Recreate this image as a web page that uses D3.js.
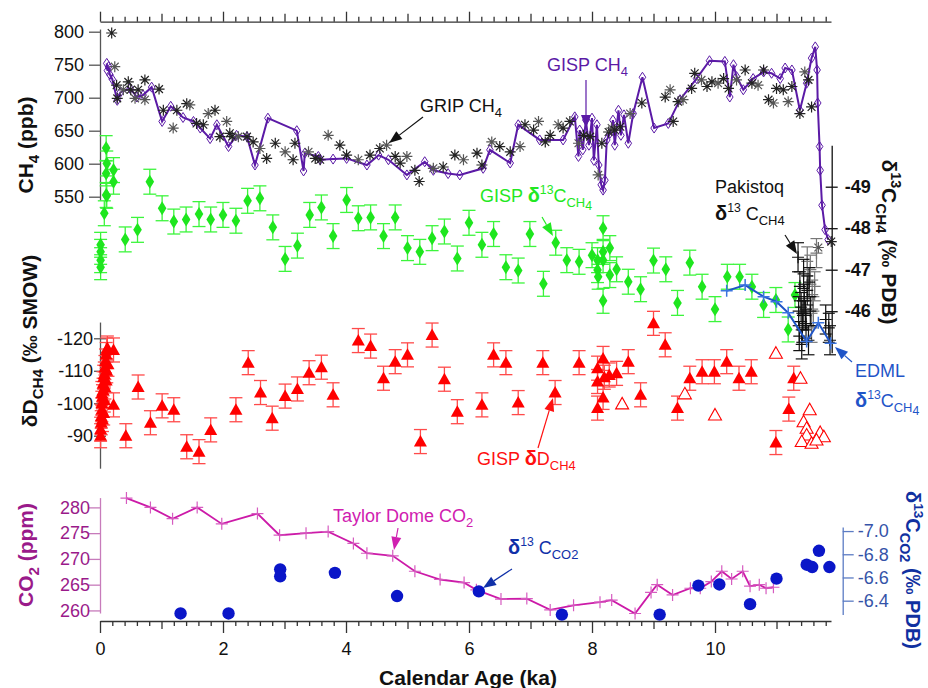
<!DOCTYPE html>
<html>
<head>
<meta charset="utf-8">
<script src="https://cdn.jsdelivr.net/npm/d3@7"></script>
<style>
body{margin:0;background:#fff;}
svg{font-family:"Liberation Sans",Arial,sans-serif;}
</style>
</head>
<body>
<svg id="chart" width="928" height="688"></svg>
<script>
// ---------------------------------------------- DATA (age in ka) ------------------------------------------------
var gispCH4 = [[0.11,752],[0.12,741],[0.14,747],[0.16,735],[0.2,728],[0.28,696],[0.33,708],[0.49,714],[0.6,701],[0.7,704],[0.84,716],
	[1.01,664],[1.15,687],[1.35,670],[1.52,664],[1.63,654],[1.79,638],[1.90,659],[2.09,626],[2.22,643],[2.39,641],[2.52,598],[2.73,669],
	[3.20,650],[3.31,589],[3.33,616],[3.55,611],[3.58,606],[3.79,607],[4.01,608],[4.34,598],[4.53,613],[4.69,606],[4.99,583],[5.28,603],
	[5.42,590],[5.66,585],[5.85,583],[6.23,593],[6.34,621],[6.67,601],[6.80,659],[7.15,636],[7.53,636],[7.72,671],[7.78,611],[7.80,651],
	[7.85,621],[7.90,666],[7.95,628],[8.00,669],[8.03,605],[8.08,659],[8.11,598],[8.15,568],[8.18,560],[8.21,575],[8.24,636],[8.29,646],
	[8.34,666],[8.37,628],[8.43,681],[8.47,643],[8.52,674],[8.59,631],[8.67,676],[8.82,731],[9.01,654],[9.24,661],[9.43,697],[9.70,729],
	[9.91,756],[10.16,755],[10.24,701],[10.30,750],[10.35,732],[10.46,712],[10.62,729],[10.79,739],[10.92,737],[11.06,729],[11.14,745],
	[11.25,742],[11.38,681],[11.49,722],[11.57,760],[11.63,777],[11.66,742],[11.67,692],[11.70,626],[11.71,590],[11.74,537],[11.79,500],[11.84,485]];

var gripCH4 = [[0.19,798],[0.24,747],[0.27,719],[0.28,699],[0.38,712],[0.46,724],[0.50,712],[0.57,699],[0.62,712],[0.73,727],[0.73,697],
	[0.96,713],[1.03,681],[1.19,654],[1.25,681],[1.41,691],[1.46,689],[1.57,661],[1.68,659],[1.76,676],[1.87,681],[1.95,641],[2.06,664],
	[2.11,646],[2.15,641],[2.25,641],[2.39,641],[2.49,633],[2.60,623],[2.71,608],[2.85,631],[3.01,618],[3.14,606],[3.17,631],[3.39,618],
	[3.50,608],[3.58,606],[3.71,643],[3.90,628],[4.01,613],[4.20,606],[4.39,613],[4.55,623],[4.66,628],[4.80,611],[4.88,601],[4.99,611],
	[5.12,590],[5.19,573],[5.42,593],[5.58,595],[5.77,613],[5.91,606],[6.13,616],[6.21,598],[6.37,633],[6.50,626],[6.67,618],[6.83,626],
	[6.91,659],[7.05,651],[7.13,664],[7.24,633],[7.32,643],[7.45,659],[7.53,654],[7.64,664],[7.78,631],[7.86,643],[7.97,641],[8.10,583],
	[8.16,631],[8.27,648],[8.32,654],[8.37,651],[8.46,656],[8.62,676],[8.81,692],[9.19,701],[9.27,712],[9.32,664],[9.40,694],[9.48,697],
	[9.62,714],[9.67,737],[9.78,727],[9.87,717],[9.95,724],[10.05,722],[10.14,729],[10.22,714],[10.35,727],[10.49,742],[10.60,722],
	[10.70,719],[10.79,742],[10.87,697],[10.95,692],[11.0,714],[11.11,712],[11.19,694],[11.25,717],[11.38,676],[11.46,739],[11.52,727],
	[11.57,686],[11.68,473],[11.89,482]];

var gispD13CH4 = [[0.10,-49.93],[0.11,-49.56],[0.10,-49.32],[0.22,-49.40],[0.22,-49.12],[0.81,-49.12],[0.10,-48.80],[0.07,-48.36],
	[0.11,-48.78],[0.01,-47.60],[0.01,-47.43],[0.01,-47.23],[0.01,-47.06],[0.41,-47.73],[0.61,-47.96],[1.01,-48.48],[1.20,-48.16],
	[1.40,-48.21],[1.61,-48.34],[1.80,-48.21],[2.00,-48.32],[2.21,-48.18],[2.40,-48.66],[2.60,-48.72],[2.81,-48.02],[3.01,-47.26],
	[3.21,-47.58],[3.41,-48.32],[3.60,-48.50],[3.79,-47.81],[4.01,-48.68],[4.20,-48.24],[4.40,-48.26],[4.61,-47.81],[4.80,-48.26],
	[5.00,-47.52],[5.20,-47.43],[5.40,-47.76],[5.60,-47.92],[5.81,-47.27],[6.00,-48.13],[6.21,-47.60],[6.40,-47.86],[6.60,-47.06],
	[6.80,-46.98],[6.99,-47.86],[7.21,-46.66],[7.41,-47.65],[7.59,-47.23],[7.79,-47.19],[8.00,-47.35],[8.09,-47.23],[8.09,-46.99],
	[8.10,-46.83],[8.18,-48.00],[8.18,-47.43],[8.18,-47.23],[8.18,-46.25],[8.29,-47.52],[8.29,-46.87],[8.40,-47.01],[8.59,-46.71],
	[8.79,-46.53],[9.00,-47.22],[9.20,-47.01],[9.39,-46.20],[9.59,-47.17],[9.79,-46.59],[10.0,-46.05],[10.20,-46.83],[10.40,-46.83],
	[10.60,-46.59],[10.79,-46.15],[10.99,-46.27],[11.19,-45.56],[11.30,-46.39]];

var pakistoqDark = [[11.35,-47.3],[11.38,-46.6],[11.40,-46.1],[11.42,-45.6],[11.44,-46.9],[11.45,-46.3],[11.37,-45.4],[11.47,-45.9],
	[11.50,-46.5],[11.52,-45.3],[11.55,-46.0],[11.41,-45.2],[11.48,-45.7],[11.36,-46.0],[11.53,-46.7],[11.43,-45.9],[11.80,-45.8],
	[11.85,-45.6],[11.87,-45.3]];
var pakistoqGrey = [[11.50,-47.2],[11.55,-47.0],[11.58,-46.4],[11.62,-46.6],[11.60,-46.0],[11.65,-47.4],[11.57,-45.6]];

var edmlD13CH4 = [[10.19,-46.49],[10.49,-46.63],[10.79,-46.35],[11.0,-46.23],[11.19,-45.96],[11.49,-45.27],[11.68,-45.72],[11.88,-45.23]];

var gispDD = [[0.01,-92],[0.02,-94],[0.02,-96],[0.03,-98],[0.03,-100],[0.04,-102],[0.05,-104],[0.05,-106],[0.06,-108],[0.07,-109],
	[0.08,-111],[0.09,-113],[0.10,-115],[0.12,-117],[0.06,-97],[0.04,-95],[0.08,-105],[0.10,-107],[0.11,-110],[0.13,-112],[0.01,-90],
	[0.03,-103],[0.07,-101],[0.11,-116.4],[0.22,-116.4],[0.22,-99.5],[0.42,-90],[0.62,-105],[0.82,-94],[1.01,-99.2],[1.20,-98],[1.41,-86.6],
	[1.61,-85.1],[1.80,-91.8],[2.21,-98],[2.41,-112.5],[2.61,-103.3],[2.80,-95.4],[3.01,-102.2],[3.21,-104.4],[3.40,-109.4],[3.60,-111.1],
	[3.79,-102.6],[4.20,-119.3],[4.40,-117.6],[4.61,-107.7],[4.80,-112.8],[5.00,-114.9],[5.21,-88.2],[5.40,-121],[5.60,-107.4],[5.81,-97.4],
	[6.21,-99.5],[6.40,-114.9],[6.60,-112.5],[6.80,-100.2],[7.20,-112.5],[7.40,-103.3],[7.79,-112.5],[8.09,-110.8],[8.09,-106.7],[8.09,-98.5],
	[8.18,-113.8],[8.18,-101.8],[8.20,-108],[8.28,-108.7],[8.40,-109.2],[8.59,-112.8],[8.79,-102.6],[9.00,-124.6],[9.19,-118],[9.39,-98.5],
	[9.59,-107.7],[9.79,-109.7],[9.99,-109.7],[10.19,-112.8],[10.39,-107.7],[10.59,-109.7],[10.99,-87.9],[11.20,-98.2],[11.28,-107.7]];
var gispDDopen = [[10.99,-115.4],[8.49,-99.8],[9.51,-102.9],[10.0,-96.4],[11.39,-107.7],[11.54,-98],[11.44,-94.3],[11.49,-92.3],
	[11.49,-90.2],[11.41,-88.2],[11.57,-87.7],[11.71,-91],[11.77,-89.7],[11.65,-88.7]];

var taylorCO2 = [[0.43,281.8],[0.82,280],[1.18,277.8],[1.58,280],[1.98,276.8],[2.56,278.8],[2.92,274.6],[3.35,275],[3.71,275.3],
	[4.12,273],[4.34,271.1],[4.76,270.6],[5.12,267.6],[5.53,266],[5.92,265.4],[6.12,264],[6.52,262.2],[6.94,262.3],[7.32,260.1],[7.70,261],
	[8.13,261.6],[8.32,262],[8.70,259.4],[8.96,263.5],[9.06,265],[9.31,263],[9.60,264.3],[9.76,264.3],[9.94,265.6],[10.11,267.6],[10.27,266.1],
	[10.45,267.6],[10.57,264.7],[10.72,265],[10.83,264.3],[10.95,264.5]];

var d13CO2 = [[1.31,-6.29],[2.09,-6.29],[2.93,-6.67],[2.93,-6.61],[3.82,-6.64],[4.83,-6.44],[6.16,-6.48],[7.51,-6.28],[9.10,-6.28],
	[9.73,-6.53],[10.07,-6.54],[10.57,-6.37],[11.0,-6.59],[11.49,-6.71],[11.58,-6.69],[11.69,-6.83],[11.86,-6.69]];

var ageTicks = d3.range(0,60).map(function(i){return i/5;});
var ch4Ticks = [550,600,650,700,750,800];
var d13Ticks = [-49,-48,-47,-46];
var ddTicks = [-120,-110,-100,-90];
var co2Ticks = [260,265,270,275,280];
var d13co2Ticks = [-7.0,-6.8,-6.6,-6.4];

// ---------------------------------------------- SCALES ------------------------------------------------
var svg = d3.select("#chart");
var x = d3.scaleLinear().domain([0,11.886]).range([100,831]);
var yCH4 = d3.scaleLinear().domain([545,804]).range([200,29.06]);
var yC13 = d3.scaleLinear().domain([-50,-45]).range([145.2,352.7]);
var yDD = d3.scaleLinear().domain([-125,-80]).range([322.05,468.2]);
var yCO2 = d3.scaleLinear().domain([259.5,281.9]).range([613,497.6]);
var yC13co2 = d3.scaleLinear().domain([-7.035,-6.28]).range([527,614.6]);

var FS = 18;

/* ------------------------------------------------- helpers ----------------------------------------------------------- */
function richText(g,px,py,parts,fs,color,opt){
	opt = opt || {};
	var t = g.append("text").attr("x",px).attr("y",py)
		.style("font-size",fs+"px").style("fill",color)
		.style("font-weight",opt.bold?"bold":"normal")
		.style("text-anchor",opt.anchor||"start");
	if (opt.transform) t.attr("transform",opt.transform).attr("x",0).attr("y",0);
	var cur = 0;
	parts.forEach(function(p){
		var kind = p[1]||"n", off = 0, size = fs;
		if (kind=="sup"){ off = -0.42*fs; size = 0.68*fs; }
		if (kind=="sub"){ off = 0.28*fs; size = 0.72*fs; }
		if (kind=="sub2"){ off = 0.42*fs; size = 0.68*fs; }
		var s = t.append("tspan").text(p[0]).attr("dy",(off-cur)).style("font-size",size+"px");
		if (kind=="b") s.style("font-weight","bold");
		if (p[2]) s.style("font-size",p[2]+"px");
		cur = off;
	});
	return t;
}

function arrow(g,x1,y1,x2,y2,color,len,w){
	len = len||13; w = w||5;
	var a = Math.atan2(y2-y1,x2-x1);
	var bx = x2-len*Math.cos(a), by = y2-len*Math.sin(a);
	g.append("line").attr("x1",x1).attr("y1",y1).attr("x2",bx).attr("y2",by)
		.style("stroke",color).style("stroke-width",1.2);
	g.append("path")
		.attr("d","M"+x2+","+y2+"L"+(bx+w*Math.sin(a))+","+(by-w*Math.cos(a))+"L"+(bx-w*Math.sin(a))+","+(by+w*Math.cos(a))+"Z")
		.style("fill",color);
}

function errBars(g,data,ys,err,capW,color,width){
	data.forEach(function(d){
		var cx = x(d[0]), y1 = ys(d[1]-err), y2 = ys(d[1]+err);
		g.append("line").attr("x1",cx).attr("x2",cx).attr("y1",y1).attr("y2",y2).style("stroke",color).style("stroke-width",width||1.3);
		g.append("line").attr("x1",cx-capW/2).attr("x2",cx+capW/2).attr("y1",y1).attr("y2",y1).style("stroke",color).style("stroke-width",width||1.3);
		g.append("line").attr("x1",cx-capW/2).attr("x2",cx+capW/2).attr("y1",y2).attr("y2",y2).style("stroke",color).style("stroke-width",width||1.3);
	});
}

function styleAxis(g,lineColor,textColor,fs,bold){
	g.attr("font-family",null).attr("font-size",null);
	g.select(".domain").style("stroke",lineColor).style("stroke-width",1.3);
	g.selectAll(".tick line").style("stroke",lineColor).style("stroke-width",1.3);
	g.selectAll(".tick text").style("fill",textColor).style("font-size",fs+"px").style("font-weight",bold?"bold":"normal");
}

var ASTERISK = "M-5.5,0L5.5,0M0,-5.5L0,5.5M-3.9,-3.9L3.9,3.9M-3.9,3.9L3.9,-3.9";
var OPEN_DIAMOND = "M0,-5L3.3,0L0,5L-3.3,0Z";
var DIAMOND = "M0,-7L4.3,0L0,7L-4.3,0Z";
var TRIANGLE = "M0,-6.5L6.5,5L-6.5,5Z";
var PLUS = "M-6,0L6,0M0,-6L0,6";

// ---------------------------------------------- AXES ------------------------------------------------
var gBottom = svg.append("g").attr("transform","translate(0,621)")
	.call(d3.axisBottom(x).tickValues(ageTicks).tickSizeOuter(0)
		.tickFormat(function(d){ var r = Math.round(d*5); return (r%10==0)? String(r/5) : ""; }));
styleAxis(gBottom,"#333","#111",FS);
gBottom.selectAll(".tick line").attr("y2",function(d){ var r=Math.round(d*5); return r%10==0?12:(r%5==0?8:5); });
gBottom.selectAll(".tick text").attr("y",21);

var gTop = svg.append("g").attr("transform","translate(0,21.7)")
	.call(d3.axisTop(x).tickValues(ageTicks).tickSizeOuter(0).tickFormat(""));
styleAxis(gTop,"#333","#111",FS);
gTop.selectAll(".tick line").attr("y2",function(d){ var r=Math.round(d*5); return r%10==0?-10:(r%5==0?-8:-5); });

var gCH4 = svg.append("g").attr("transform","translate(100,0)")
	.call(d3.axisLeft(yCH4).tickValues(ch4Ticks).tickSize(11).tickSizeOuter(0).tickPadding(5));
styleAxis(gCH4,"#555","#111",FS);

var gDD = svg.append("g").attr("transform","translate(100,0)")
	.call(d3.axisLeft(yDD).tickValues(ddTicks).tickSize(6).tickSizeOuter(0).tickPadding(1).tickFormat(String));
styleAxis(gDD,"#555","#111",FS);
gDD.selectAll(".tick line").attr("x1",6);

var gC13 = svg.append("g").attr("transform","translate(831.7,0)")
	.call(d3.axisRight(yC13).tickValues(d13Ticks).tickSize(6).tickSizeOuter(0).tickPadding(7).tickFormat(String));
styleAxis(gC13,"#111","#111",FS,true);
gC13.selectAll(".tick line").attr("x1",-6);

var gCO2 = svg.append("g").attr("transform","translate(100,0)")
	.call(d3.axisLeft(yCO2).tickValues(co2Ticks).tickSize(11).tickSizeOuter(0).tickPadding(-1));
styleAxis(gCO2,"#c77bbb","#9a1a8a",FS);

var gC13co2 = svg.append("g").attr("transform","translate(842.7,0)")
	.call(d3.axisRight(yC13co2).tickValues(d13co2Ticks).tickSize(11).tickSizeOuter(0).tickPadding(4)
		.tickFormat(function(d){return d.toFixed(1);}));
styleAxis(gC13co2,"#5c7cc4","#3553a8",FS);

// ---------------------------------------------- AXIS TITLES ------------------------------------------------
var gTitles = svg.append("g").style("font-weight","bold");
richText(gTitles,0,0,[["CH"],["4","sub"],[" (ppb)"]],21,"#111",{bold:true,anchor:"middle",transform:"translate(33,145) rotate(-90)"});
richText(gTitles,0,0,[["δD"],["CH4","sub"],[" (‰ SMOW)"]],21,"#111",{bold:true,anchor:"middle",transform:"translate(37,341) rotate(-90)"});
richText(gTitles,0,0,[["CO"],["2","sub"],[" (ppm)"]],21,"#9a1a8a",{bold:true,anchor:"middle",transform:"translate(33,555) rotate(-90)"});
richText(gTitles,0,0,[["δ"],["13","sup"],["C"],["CH4","sub"],[" (‰  PDB)"]],21,"#111",{bold:true,anchor:"middle",transform:"translate(882,242) rotate(90)"});
richText(gTitles,0,0,[["δ"],["13","sup"],["C"],["CO2","sub"],[" (‰  PDB)"]],20,"#1030a0",{bold:true,anchor:"middle",transform:"translate(906,570) rotate(90)"});
gTitles.append("text").text("Calendar Age (ka)").attr("x",468).attr("y",685)
	.style("font-size","21px").style("font-weight","bold").style("text-anchor","middle").style("fill","#111");

// ---------------------------------------------- CH4 ------------------------------------------------
var gMarks = svg.append("g");
var GISP_COL = "#5b1aa6";
gMarks.append("path").datum(gispCH4)
	.attr("d",d3.line().x(function(d){return x(d[0]);}).y(function(d){return yCH4(d[1]);}))
	.style("fill","none").style("stroke",GISP_COL).style("stroke-width",2);
gMarks.selectAll(".gispDia").data(gispCH4).enter().append("path")
	.attr("d",OPEN_DIAMOND).attr("transform",function(d){return "translate("+x(d[0])+","+yCH4(d[1])+")";})
	.style("fill","none").style("stroke",GISP_COL).style("stroke-width",1);
gMarks.selectAll(".grip").data(gripCH4).enter().append("path")
	.attr("d",ASTERISK).attr("transform",function(d){return "translate("+x(d[0])+","+yCH4(d[1])+")";})
	.style("fill","none").style("stroke",function(d,i){return i%3==1?"#555":"#222";}).style("stroke-width",1.2);

// ---------------------------------------------- d13C CH4 ------------------------------------------------
errBars(gMarks,gispD13CH4,yC13,0.3,13,"#3cf53c",1.3);
gMarks.selectAll(".gD13").data(gispD13CH4).enter().append("path")
	.attr("d",DIAMOND).attr("transform",function(d){return "translate("+x(d[0])+","+yC13(d[1])+")";})
	.style("fill","#1ee61e");

errBars(gMarks,pakistoqGrey,yC13,0.35,12,"#777",1.2);
gMarks.selectAll(".pakG").data(pakistoqGrey).enter().append("path")
	.attr("d",PLUS).attr("transform",function(d){return "translate("+x(d[0])+","+yC13(d[1])+")";})
	.style("stroke","#777").style("stroke-width",1.2);
errBars(gMarks,pakistoqDark,yC13,0.35,12,"#111",1.2);
gMarks.selectAll(".pakD").data(pakistoqDark).enter().append("path")
	.attr("d",PLUS).attr("transform",function(d){return "translate("+x(d[0])+","+yC13(d[1])+")";})
	.style("stroke","#111").style("stroke-width",1.2);

gMarks.append("path").datum(edmlD13CH4)
	.attr("d",d3.line().x(function(d){return x(d[0]);}).y(function(d){return yC13(d[1]);}))
	.style("fill","none").style("stroke","#1f55c8").style("stroke-width",2);
gMarks.selectAll(".edml").data(edmlD13CH4).enter().append("path")
	.attr("d",PLUS).attr("transform",function(d){return "translate("+x(d[0])+","+yC13(d[1])+")";})
	.style("stroke","#3a74e0").style("stroke-width",1.5);

// ---------------------------------------------- dD CH4 ------------------------------------------------
errBars(gMarks,gispDD,yDD,3.7,13,"#ff4a4a",1.3);
gMarks.selectAll(".dd").data(gispDD).enter().append("path")
	.attr("d",TRIANGLE).attr("transform",function(d){return "translate("+x(d[0])+","+yDD(d[1])+")";})
	.style("fill","#ff0000");
gMarks.selectAll(".ddo").data(gispDDopen).enter().append("path")
	.attr("d",TRIANGLE).attr("transform",function(d){return "translate("+x(d[0])+","+yDD(d[1])+")";})
	.style("fill","#fff").style("stroke","#ff0000").style("stroke-width",1.1);

// ---------------------------------------------- CO2 ------------------------------------------------
var CO2_COL = "#cc1aa8";
gMarks.append("path").datum(taylorCO2)
	.attr("d",d3.line().x(function(d){return x(d[0]);}).y(function(d){return yCO2(d[1]);}))
	.style("fill","none").style("stroke",CO2_COL).style("stroke-width",1.8);
gMarks.selectAll(".co2").data(taylorCO2).enter().append("path")
	.attr("d",PLUS).attr("transform",function(d){return "translate("+x(d[0])+","+yCO2(d[1])+")";})
	.style("stroke","#d65cc0").style("stroke-width",1.2);
gMarks.selectAll(".c13co2").data(d13CO2).enter().append("circle")
	.attr("cx",function(d){return x(d[0]);}).attr("cy",function(d){return yC13co2(d[1]);}).attr("r",6.2)
	.style("fill","#0a16c8");

// ---------------------------------------------- ANNOTATIONS ------------------------------------------------
var gNotes = svg.append("g");
richText(gNotes,420,112,[["GRIP CH"],["4","sub"]],FS,"#111");
arrow(gNotes,423,117,389,143,"#111");
richText(gNotes,547,71,[["GISP CH"],["4","sub"]],FS,GISP_COL);
arrow(gNotes,586,80,586,128,GISP_COL);
richText(gNotes,480,202,[["GISP "],["δ","b",20],["13","sup"],["C"],["CH","sub"],["4","sub2"]],FS,"#22e822");
arrow(gNotes,542,217,553,236,"#22e822");
richText(gNotes,715,193,[["Pakistoq"]],FS,"#111");
richText(gNotes,715,220,[["δ","b",20],["13","sup"],[" C"],["CH4","sub"]],FS,"#111");
arrow(gNotes,785,235,797,254,"#111");
richText(gNotes,855,377,[["EDML"]],FS,"#1f55c8");
richText(gNotes,855,407,[["δ","b",20],["13","sup"],["C"],["CH","sub"],["4","sub2"]],FS,"#1f55c8");
arrow(gNotes,852,362,835,347,"#1f55c8");
richText(gNotes,477,465,[["GISP "],["δ","b",20],["D"],["CH4","sub"]],FS,"#ff1010");
arrow(gNotes,538,448,553,398,"#ff1010");
richText(gNotes,333,522,[["Taylor Dome CO"],["2","sub"]],FS,"#d020b0");
arrow(gNotes,398,528,394,550,"#d020b0");
richText(gNotes,508,554,[["δ","b",20],["13","sup"],[" C"],["CO2","sub"]],FS,"#1030a8");
arrow(gNotes,512,569,483,588,"#1030a8");
</script>
</body>
</html>
